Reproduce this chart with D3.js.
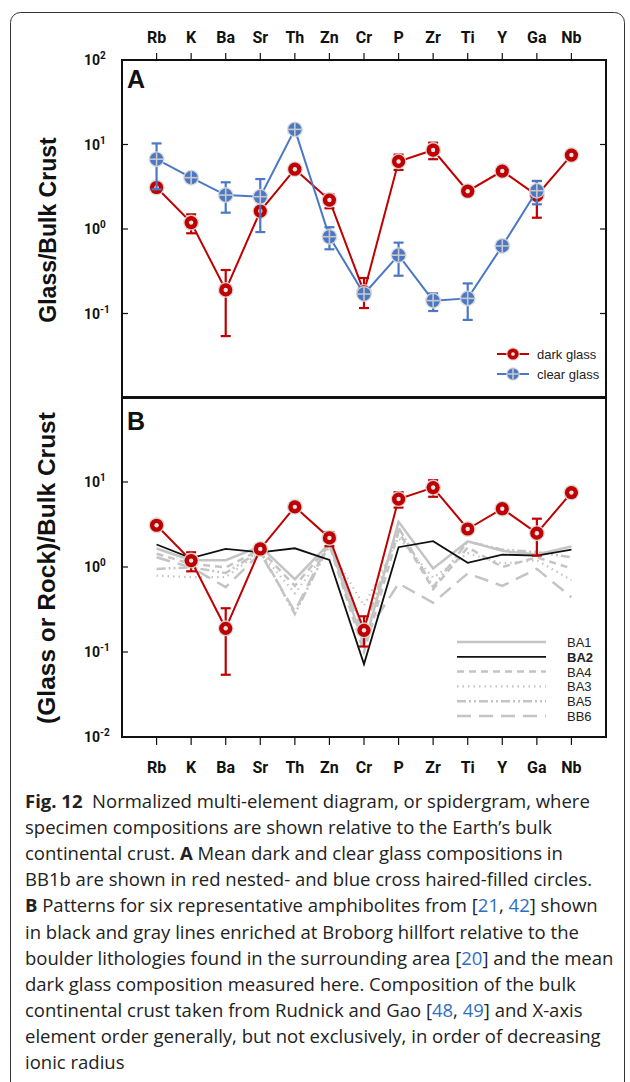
<!DOCTYPE html>
<html>
<head>
<meta charset="utf-8">
<script src="https://cdn.jsdelivr.net/npm/d3@7"></script>
<style>
  body { margin: 0; background: #fff; }
  svg { display: block; }
  .tick-lab { font-family: "Roboto", "Liberation Sans", sans-serif; font-weight: bold; font-size: 16px; fill: #111; }
  .ylab { font-family: "Roboto", "Liberation Sans", sans-serif; font-weight: bold; font-size: 14px; fill: #111; }
  .axis-title { font-family: "Liberation Sans", Arial, sans-serif; font-weight: bold; font-size: 23px; fill: #111; }
  .panel-lab { font-family: "Liberation Sans", Arial, sans-serif; font-weight: bold; font-size: 25px; fill: #111; }
  .leg { font-family: "Liberation Sans", Arial, sans-serif; font-size: 13px; fill: #222; }
  .caption { font-family: "Open Sans", "Noto Sans", sans-serif; font-size: 18.5px; fill: #222; }
</style>
</head>
<body>
<div id="chart"></div>
<script>
const width = 630;
const height = 1082;

// elements, in plotted order
const elements = ["Rb","K","Ba","Sr","Th","Zn","Cr","P","Zr","Ti","Y","Ga","Nb"];

// panel A / B : mean glass / bulk crust
const darkGlass = [3.1, 1.19, 0.19, 1.63, 5.1, 2.2, 0.18, 6.3, 8.6, 2.8, 4.85, 2.5, 7.5];
const darkLow   = [null, 0.89, 0.054, null, null, 1.76, 0.116, 5.0, 6.7, null, null, 1.36, null];
const darkHigh  = [null, 1.49, 0.327, null, null, 2.58, 0.263, 7.6, 10.5, null, null, 3.7, null];

const clearGlass = [6.7, 4.05, 2.52, 2.41, 15.1, 0.81, 0.17, 0.49, 0.142, 0.151, 0.63, 2.84, null];
const clearLow   = [2.95, null, 1.56, 0.92, null, 0.575, null, 0.28, 0.107, 0.084, null, 1.96, null];
const clearHigh  = [10.3, null, 3.57, 3.9, null, 1.05, null, 0.69, 0.173, 0.227, null, 3.7, null];

// panel B : amphibolites / bulk crust
const BA1 = [1.65, 1.2, 1.2, 1.75, 0.72, 1.9, 0.12, 3.4, 0.96, 2.0, 1.55, 1.4, 1.75];
const BA2 = [1.84, 1.27, 1.63, 1.49, 1.66, 1.21, 0.072, 1.71, 2.01, 1.12, 1.40, 1.36, 1.60];
const BA4 = [1.43, 1.09, 0.99, 1.6, 0.6, 1.8, 0.1, 2.6, 0.55, 1.7, 1.0, 1.3, 0.96];
const BA3 = [0.79, 0.76, 0.76, 1.5, 0.49, 1.7, 0.35, 2.2, 0.75, 1.45, 1.1, 1.2, 0.7];
const BA5 = [0.95, 0.99, 0.85, 1.55, 0.28, 1.85, 0.18, 2.9, 0.58, 2.0, 1.6, 1.5, 1.3];
const BB6 = [1.3, 0.99, 0.58, 1.45, 0.3, 2.0, 0.15, 0.64, 0.38, 0.84, 0.6, 0.95, 0.44];

const expLabels = {100: "2", 10: "1", 1: "0", 0.1: "-1", 0.01: "-2"};

const rocks = [
   {name: "BA1", values: BA1, color: "#c4c4c4", w: 2.5, dash: null, bold: false},
   {name: "BA2", values: BA2, color: "#111", w: 1.8, dash: null, bold: true},
   {name: "BA4", values: BA4, color: "#c4c4c4", w: 2.5, dash: "7,5", bold: false},
   {name: "BA3", values: BA3, color: "#c4c4c4", w: 2.2, dash: "1.5,4", bold: false},
   {name: "BA5", values: BA5, color: "#c4c4c4", w: 2.5, dash: "9,3,2,3,2,3", bold: false},
   {name: "BB6", values: BB6, color: "#c4c4c4", w: 2.5, dash: "14,8", bold: false}
];

const red = "#c00000";
const blue = "#4a78c5";

const svg = d3.select("#chart").append("svg")
   .attr("width", width)
   .attr("height", height);

// outer frame
svg.append("rect")
   .attr("x", 10.5).attr("y", 12.5)
   .attr("width", 614).attr("height", 1100)
   .attr("rx", 10)
   .attr("fill", "none")
   .attr("stroke", "#333")
   .attr("stroke-width", 1);

const left = 122, right = 606;

const x = d3.scalePoint()
   .domain(elements)
   .range([left, right])
   .padding(1);

const yA = d3.scaleLog().domain([0.01, 100]).range([398, 60]);
const yB = d3.scaleLog().domain([0.01, 100]).range([737, 397]);

function drawFrame(top, bottom) {
   svg.append("rect")
      .attr("x", left).attr("y", top)
      .attr("width", right - left).attr("height", bottom - top)
      .attr("fill", "none")
      .attr("stroke", "#111")
      .attr("stroke-width", 2);
}

function yLabel(y, v) {
   const t = svg.append("text")
      .attr("class", "ylab")
      .attr("x", 84)
      .attr("y", y(v) + 5);
   t.append("tspan").text("10");
   t.append("tspan")
      .attr("dy", -6)
      .style("font-size", "10px")
      .text(expLabels[v]);
}

function drawSeries(g, y, vals, lo, hi, color, kind) {
   const pts = elements.map((e, i) => ({e: e, v: vals[i], lo: lo ? lo[i] : null, hi: hi ? hi[i] : null}))
      .filter(d => d.v != null);

   g.append("path")
      .datum(pts)
      .attr("fill", "none")
      .attr("stroke", color)
      .attr("stroke-width", 2)
      .attr("d", d3.line().x(d => x(d.e)).y(d => y(d.v)));

   const bars = pts.filter(d => d.lo != null);
   const eb = g.selectAll(null).data(bars).enter().append("g")
      .attr("stroke", color)
      .attr("stroke-width", 2.2);
   eb.append("line")
      .attr("x1", d => x(d.e)).attr("x2", d => x(d.e))
      .attr("y1", d => y(d.lo)).attr("y2", d => y(d.hi));
   eb.append("line")
      .attr("x1", d => x(d.e) - 5).attr("x2", d => x(d.e) + 5)
      .attr("y1", d => y(d.lo)).attr("y2", d => y(d.lo));
   eb.append("line")
      .attr("x1", d => x(d.e) - 5).attr("x2", d => x(d.e) + 5)
      .attr("y1", d => y(d.hi)).attr("y2", d => y(d.hi));

   const m = g.selectAll(null).data(pts).enter().append("g")
      .attr("transform", d => `translate(${x(d.e)},${y(d.v)})`);
   marker(m, kind, 1);
}

function marker(m, kind, s) {
   m.append("circle").attr("r", 8 * s).attr("fill", "#d6d6d6").attr("opacity", 0.9);
   if (kind === "dark") {
      m.append("circle").attr("r", 6.6 * s).attr("fill", red);
      m.append("circle").attr("r", 2.2 * s).attr("fill", "#e4e4e4");
   } else {
      m.append("circle").attr("r", 6.6 * s).attr("fill", blue);
      m.append("line").attr("x1", -6.6 * s).attr("x2", 6.6 * s)
         .attr("stroke", "#c9c9c9").attr("stroke-width", 1.6);
      m.append("line").attr("y1", -6.6 * s).attr("y2", 6.6 * s)
         .attr("stroke", "#c9c9c9").attr("stroke-width", 1.6);
   }
}

// ---------- panel A ----------
drawFrame(60, 398);

[10, 1, 0.1].forEach(v => {
   svg.append("line").attr("x1", left).attr("x2", left + 6)
      .attr("y1", yA(v)).attr("y2", yA(v)).attr("stroke", "#111").attr("stroke-width", 1.2);
   svg.append("line").attr("x1", right).attr("x2", right - 6)
      .attr("y1", yA(v)).attr("y2", yA(v)).attr("stroke", "#111").attr("stroke-width", 1.2);
});
[100, 10, 1, 0.1].forEach(v => yLabel(yA, v));

svg.selectAll("line.topTick")
   .data(elements).enter().append("line")
   .attr("class", "topTick")
   .attr("x1", d => x(d)).attr("x2", d => x(d))
   .attr("y1", 60).attr("y2", 53)
   .attr("stroke", "#111").attr("stroke-width", 1.2);

svg.selectAll("text.topLab")
   .data(elements).enter().append("text")
   .attr("class", "tick-lab topLab")
   .attr("x", d => x(d))
   .attr("y", 43)
   .attr("text-anchor", "middle")
   .text(d => d);

svg.append("text").attr("class", "panel-lab").attr("x", 127).attr("y", 88).text("A");

svg.append("text")
   .attr("class", "axis-title")
   .attr("transform", "translate(56,230) rotate(-90)")
   .attr("text-anchor", "middle")
   .text("Glass/Bulk Crust");

const gA = svg.append("g");
drawSeries(gA, yA, darkGlass, darkLow, darkHigh, red, "dark");
drawSeries(gA, yA, clearGlass, clearLow, clearHigh, blue, "clear");

// legend A
const legA = [{label: "dark glass", kind: "dark", color: red, y: 354},
              {label: "clear glass", kind: "clear", color: blue, y: 374}];
legA.forEach(d => {
   svg.append("line").attr("x1", 497).attr("x2", 529)
      .attr("y1", d.y).attr("y2", d.y)
      .attr("stroke", d.color).attr("stroke-width", 2);
   const m = svg.append("g").attr("transform", `translate(513,${d.y})`);
   marker(m, d.kind, 0.85);
   svg.append("text").attr("class", "leg")
      .attr("x", 537).attr("y", d.y + 5).text(d.label);
});

// ---------- panel B ----------
drawFrame(397, 737);

[10, 1, 0.1].forEach(v => {
   svg.append("line").attr("x1", left).attr("x2", left + 6)
      .attr("y1", yB(v)).attr("y2", yB(v)).attr("stroke", "#111").attr("stroke-width", 1.2);
});
[10, 1, 0.1, 0.01].forEach(v => yLabel(yB, v));

svg.selectAll("line.botTick")
   .data(elements).enter().append("line")
   .attr("class", "botTick")
   .attr("x1", d => x(d)).attr("x2", d => x(d))
   .attr("y1", 737).attr("y2", 745)
   .attr("stroke", "#111").attr("stroke-width", 1.2);

svg.selectAll("text.botLab")
   .data(elements).enter().append("text")
   .attr("class", "tick-lab botLab")
   .attr("x", d => x(d))
   .attr("y", 773)
   .attr("text-anchor", "middle")
   .text(d => d);

svg.append("text").attr("class", "panel-lab").attr("x", 127).attr("y", 430).text("B");

svg.append("text")
   .attr("class", "axis-title")
   .attr("transform", "translate(55,568) rotate(-90)")
   .attr("text-anchor", "middle")
   .style("font-size", "24.5px")
   .text("(Glass or Rock)/Bulk Crust");

const gB = svg.append("g");
const rockLine = d3.line().x((d, i) => x(elements[i])).y(d => yB(d));

// gray lines first, black on top
rocks.filter(r => r.name !== "BA2").concat(rocks.filter(r => r.name === "BA2")).forEach(r => {
   gB.append("path")
      .attr("fill", "none")
      .attr("stroke", r.color)
      .attr("stroke-width", r.w)
      .attr("stroke-dasharray", r.dash)
      .attr("d", rockLine(r.values));
});

drawSeries(gB, yB, darkGlass, darkLow, darkHigh, red, "dark");

// legend B
rocks.forEach((r, i) => {
   const ly = 642 + i * 14.8;
   svg.append("line").attr("x1", 457).attr("x2", 546)
      .attr("y1", ly).attr("y2", ly)
      .attr("stroke", r.color).attr("stroke-width", r.w)
      .attr("stroke-dasharray", r.dash);
   svg.append("text").attr("class", "leg")
      .attr("x", 567).attr("y", ly + 5)
      .style("font-weight", r.bold ? "bold" : "normal")
      .text(r.name);
});

// ---------- caption ----------
const captionLines = [
   [["Fig. 12", "b"], ["  Normalized multi-element diagram, or spidergram, where", ""]],
   [["specimen compositions are shown relative to the Earth\u2019s bulk", ""]],
   [["continental crust. ", ""], ["A", "b"], [" Mean dark and clear glass compositions in", ""]],
   [["BB1b are shown in red nested- and blue cross haired-filled circles.", ""]],
   [["B", "b"], [" Patterns for six representative amphibolites from [", ""], ["21", "l"], [", ", ""], ["42", "l"], ["] shown", ""]],
   [["in black and gray lines enriched at Broborg hillfort relative to the", ""]],
   [["boulder lithologies found in the surrounding area [", ""], ["20", "l"], ["] and the mean", ""]],
   [["dark glass composition measured here. Composition of the bulk", ""]],
   [["continental crust taken from Rudnick and Gao [", ""], ["48", "l"], [", ", ""], ["49", "l"], ["] and X-axis", ""]],
   [["element order generally, but not exclusively, in order of decreasing", ""]],
   [["ionic radius", ""]]
];

captionLines.forEach((parts, i) => {
   const t = svg.append("text")
      .attr("class", "caption")
      .attr("x", 25)
      .attr("y", 808 + i * 26.1)
      .attr("xml:space", "preserve");
   parts.forEach(p => {
      const s = t.append("tspan").text(p[0]);
      if (p[1] === "b") s.style("font-weight", "bold");
      if (p[1] === "l") s.style("fill", "#2f6fc0");
   });
});
</script>
</body>
</html>
